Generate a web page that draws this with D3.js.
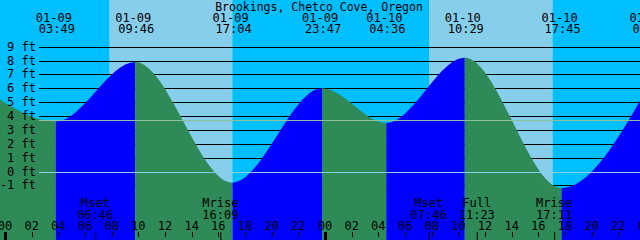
<!DOCTYPE html>
<html lang="en">
<head>
    <meta charset="UTF-8">
    <script src="https://d3js.org/d3.v7.min.js"></script>
    <title>Tides</title>
    <style>
        body { margin: 0; background: #fff; }
        text { font-family: "DejaVu Sans Mono", monospace; font-size: 12px; fill: #000; }
    </style>
</head>
<body>
    <div id="chart"></div>
    <script>

        // tide extremes (local time) and heights in feet
        const tideTimes = ["2020-01-08 22:06", "2020-01-09 03:49", "2020-01-09 09:46", "2020-01-09 17:04",
                           "2020-01-09 23:47", "2020-01-10 04:36", "2020-01-10 10:29", "2020-01-10 17:45",
                           "2020-01-11 00:20"];
        const tideHeights = [6.2, 3.6, 7.9, -0.8, 6.0, 3.5, 8.2, -1.2, 6.3];

        const sunrise = ["2020-01-09 07:49", "2020-01-10 07:48"];
        const sunset = ["2020-01-09 17:04", "2020-01-10 17:05"];

        const moonNames = ["Mset", "Mrise", "Mset", "Full", "Mrise"];
        const moonTimes = ["2020-01-09 06:46", "2020-01-09 16:09", "2020-01-10 07:46", "2020-01-10 11:23", "2020-01-10 17:11"];

        const depthLevels = [-1, 0, 1, 2, 3, 4, 5, 6, 7, 8, 9];
        const meanSeaLevel = 3.69;
        const title = "Brookings, Chetco Cove, Oregon";

        var width = 640;
        var height = 240;
        var parse = d3.timeParse("%Y-%m-%d %H:%M");

        var tides = tideTimes.map(function(t, i) { return {t: parse(t), h: tideHeights[i]}; });

        var svg = d3.select("#chart")
            .append("svg")
            .attr("width", width)
            .attr("height", height);

        var x = d3.scaleTime()
            .domain([parse("2020-01-09 00:00"), parse("2020-01-11 00:00")])
            .range([5, 645]);

        var y = d3.scaleLinear()
            .domain([-1, 9])
            .range([185.4, 46.7]);

        // night background, then daylight bands
        svg.append("rect")
           .attr("width", width)
           .attr("height", height)
           .attr("fill", "#00bfff");

        svg.selectAll(".day")
           .data(sunrise)
           .enter().append("rect")
           .attr("class", "day")
           .attr("x", function(d) { return x(parse(d)); })
           .attr("width", function(d, i) { return x(parse(sunset[i])) - x(parse(d)); })
           .attr("y", 0)
           .attr("height", height)
           .attr("fill", "#87ceeb");

        // depth lines behind the water
        svg.selectAll(".grid")
           .data(depthLevels)
           .enter().append("line")
           .attr("x1", 39)
           .attr("x2", width)
           .attr("y1", function(d) { return Math.round(y(d)) + 0.5; })
           .attr("y2", function(d) { return Math.round(y(d)) + 0.5; })
           .attr("stroke", "#000")
           .attr("stroke-width", 1);

        var area = d3.area()
            .x(function(d) { return x(d.t); })
            .y0(height)
            .y1(function(d) { return y(d.h); })
            .curve(d3.curveMonotoneX);

        // rising water blue, falling water green
        var defs = svg.append("defs");
        tides.slice(1).forEach(function(d, i) {
            var prev = tides[i];
            defs.append("clipPath")
                .attr("id", "seg" + i)
                .append("rect")
                .attr("x", x(prev.t))
                .attr("width", x(d.t) - x(prev.t))
                .attr("y", 0)
                .attr("height", height);

            svg.append("path")
               .datum(tides)
               .attr("d", area)
               .attr("clip-path", "url(#seg" + i + ")")
               .attr("fill", d.h > prev.h ? "#0000ff" : "#2e8b57");
        });

        // mean sea level and datum
        svg.append("line")
           .attr("x1", 39).attr("x2", width)
           .attr("y1", Math.round(y(meanSeaLevel)) + 0.5)
           .attr("y2", Math.round(y(meanSeaLevel)) + 0.5)
           .attr("stroke", "#8fc09f");

        svg.append("line")
           .attr("x1", 39).attr("x2", width)
           .attr("y1", Math.round(y(0)) + 0.5)
           .attr("y2", Math.round(y(0)) + 0.5)
           .attr("stroke", "#87ceeb");

        // depth labels
        svg.selectAll(".ylab")
           .data(depthLevels)
           .enter().append("text")
           .attr("x", 36)
           .attr("y", function(d) { return y(d) + 4; })
           .attr("text-anchor", "end")
           .text(function(d) { return d + " ft"; });

        svg.append("text")
           .attr("x", 319)
           .attr("y", 10.5)
           .attr("text-anchor", "middle")
           .style("font-size", "11.5px")
           .text(title);

        // tide event labels on top
        var fmtDate = d3.timeFormat("%m-%d");
        var fmtTime = d3.timeFormat("%H:%M");

        var ev = svg.selectAll(".ev")
            .data(tides)
            .enter().append("g")
            .attr("transform", function(d) { return "translate(" + x(d.t) + ",0)"; });

        ev.append("text")
          .attr("y", 21.5)
          .attr("x", -2)
          .attr("text-anchor", "middle")
          .text(function(d) { return fmtDate(d.t); });

        ev.append("text")
          .attr("y", 33)
          .attr("x", 1)
          .attr("text-anchor", "middle")
          .text(function(d) { return fmtTime(d.t); });

        // moon events at the bottom
        var moon = svg.selectAll(".moon")
            .data(moonTimes)
            .enter().append("g")
            .attr("transform", function(d) { return "translate(" + x(parse(d)) + ",0)"; });

        moon.append("text")
            .attr("y", 207)
            .attr("text-anchor", "middle")
            .text(function(d, i) { return moonNames[i]; });

        moon.append("text")
            .attr("y", 218.5)
            .attr("text-anchor", "middle")
            .text(function(d) { return fmtTime(parse(d)); });

        moon.append("line")
            .attr("x1", 0.5).attr("x2", 0.5)
            .attr("y1", 232).attr("y2", 240)
            .attr("stroke", "#000");

        // hour axis
        var hours = x.ticks(d3.timeHour.every(2));

        svg.selectAll(".hlab")
           .data(hours)
           .enter().append("text")
           .attr("x", function(d) { return x(d); })
           .attr("y", 230)
           .attr("text-anchor", "middle")
           .text(function(d) { return d3.timeFormat("%H")(d); });

        svg.selectAll(".htick")
           .data(hours)
           .enter().append("line")
           .attr("x1", function(d) { return Math.round(x(d)) + 0.5; })
           .attr("x2", function(d) { return Math.round(x(d)) + 0.5; })
           .attr("y1", 232)
           .attr("y2", function(d) { return d.getHours() === 0 ? 240 : 237; })
           .attr("stroke", "#000")
           .attr("stroke-width", function(d) { return d.getHours() === 0 ? 3 : 1; });

    </script>
</body>
</html>
